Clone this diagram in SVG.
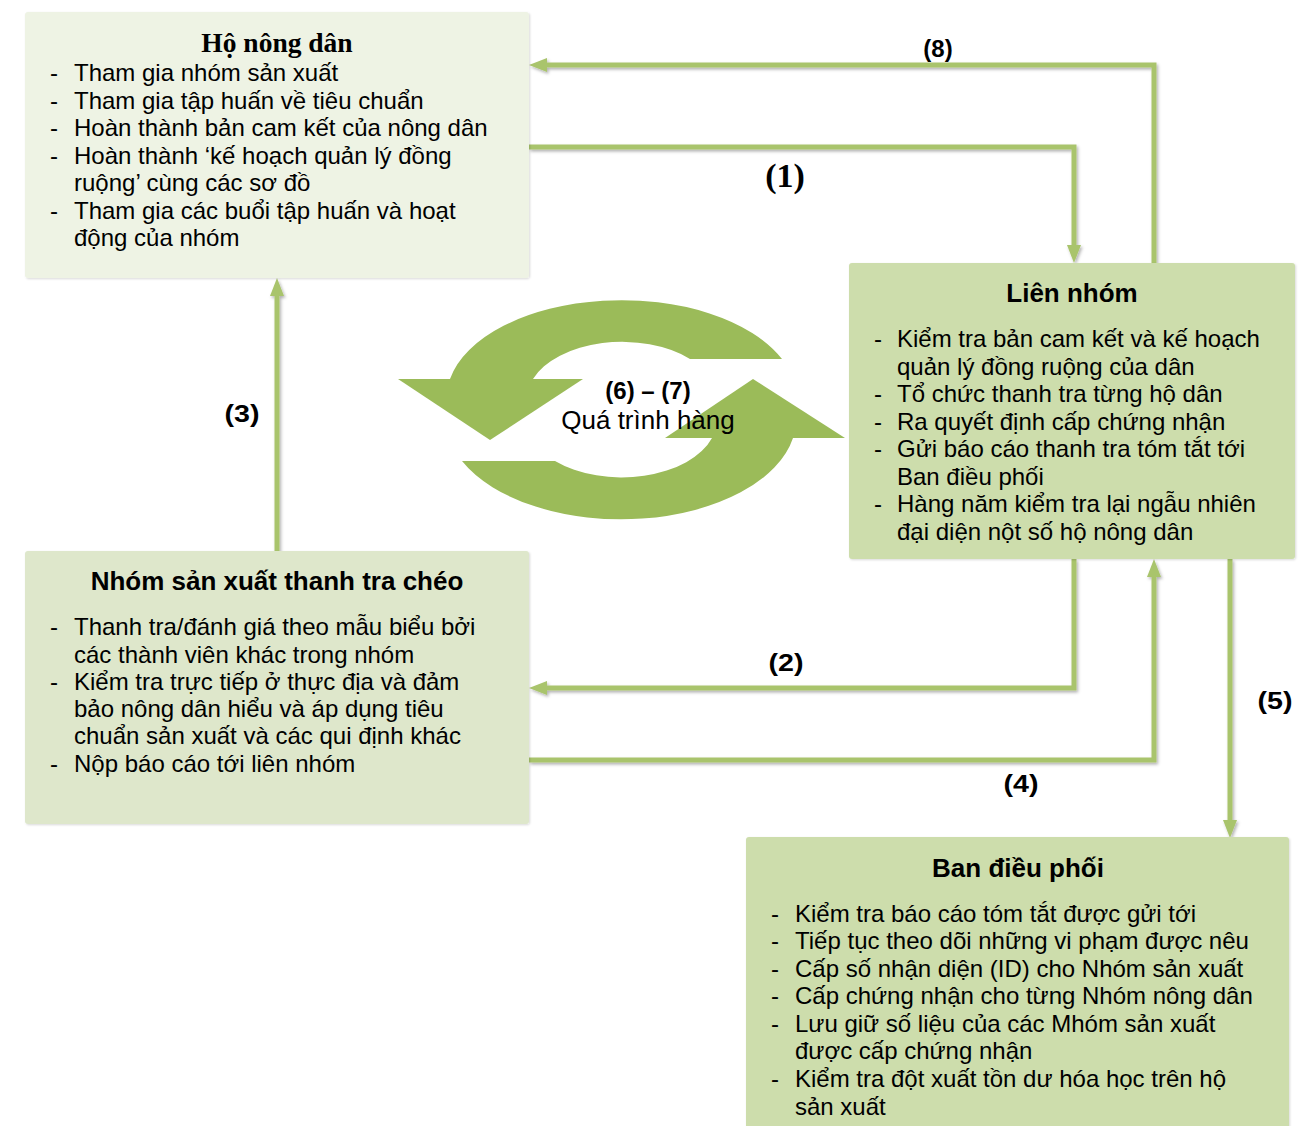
<svg xmlns="http://www.w3.org/2000/svg" width="1298" height="1126" viewBox="0 0 1298 1126">
<style>
.body{font-family:"Liberation Sans",Arial,sans-serif;font-size:24px;fill:#000}
.title{font-family:"Liberation Sans",Arial,sans-serif;font-size:26px;font-weight:bold;fill:#000;text-anchor:middle}
.lbl{font-family:"Liberation Sans",Arial,sans-serif;font-size:24px;font-weight:bold;fill:#000;text-anchor:middle}
.slbl{font-family:"Liberation Serif","Times New Roman",serif;font-weight:bold;fill:#000;text-anchor:middle}
.conn{fill:none;stroke:#A9C46C;stroke-width:5;marker-end:url(#ah)}
</style>
<defs>
<filter id="sh" x="-5%" y="-5%" width="110%" height="110%">
<feDropShadow dx="1.5" dy="2" stdDeviation="1.5" flood-color="#000" flood-opacity="0.3"/>
</filter>
<filter id="bs" x="-2%" y="-2%" width="104%" height="104%">
<feDropShadow dx="1" dy="1" stdDeviation="1" flood-color="#000" flood-opacity="0.15"/>
</filter>
<marker id="ah" markerUnits="userSpaceOnUse" markerWidth="18" markerHeight="14" refX="10" refY="7" orient="auto">
<path d="M0,0 L18,7 L0,14 Z" fill="#A9C46C"/>
</marker>
</defs>
<rect width="1298" height="1126" fill="#fff"/>

<g id="connectors" filter="url(#sh)">
<path class="conn" d="M1154 263 V65 H537"/>
<path class="conn" d="M529 147 H1074 V255"/>
<path class="conn" d="M277 551 V286"/>
<path class="conn" d="M1074 559 V688 H537"/>
<path class="conn" d="M529 760 H1154 V567"/>
<path class="conn" d="M1230 559 V830"/>
</g>

<g id="node-ho-nong-dan">
<rect x="25" y="12" width="504" height="266" rx="3" fill="#EEF3E4" filter="url(#bs)"/>
<text class="slbl" x="277" y="52" font-size="27.5">Hộ nông dân</text>
<g class="body">
<text x="50" y="81">-</text><text x="74" y="81">Tham gia nhóm sản xuất</text>
<text x="50" y="108.5">-</text><text x="74" y="108.5">Tham gia tập huấn về tiêu chuẩn</text>
<text x="50" y="136">-</text><text x="74" y="136">Hoàn thành bản cam kết của nông dân</text>
<text x="50" y="163.5">-</text><text x="74" y="163.5">Hoàn thành ‘kế hoạch quản lý đồng</text>
<text x="74" y="191">ruộng’ cùng các sơ đồ</text>
<text x="50" y="218.5">-</text><text x="74" y="218.5">Tham gia các buổi tập huấn và hoạt</text>
<text x="74" y="246">động của nhóm</text>
</g>
</g>

<g id="node-lien-nhom">
<rect x="849" y="263" width="446" height="296" rx="3" fill="#CDDDAC" filter="url(#bs)"/>
<text class="title" x="1072" y="302">Liên nhóm</text>
<g class="body">
<text x="874" y="347">-</text><text x="897" y="347">Kiểm tra bản cam kết và kế hoạch</text>
<text x="897" y="374.5">quản lý đồng ruộng của dân</text>
<text x="874" y="402">-</text><text x="897" y="402">Tổ chức thanh tra từng hộ dân</text>
<text x="874" y="429.5">-</text><text x="897" y="429.5">Ra quyết định cấp chứng nhận</text>
<text x="874" y="457">-</text><text x="897" y="457">Gửi báo cáo thanh tra tóm tắt tới</text>
<text x="897" y="484.5">Ban điều phối</text>
<text x="874" y="512">-</text><text x="897" y="512">Hàng năm kiểm tra lại ngẫu nhiên</text>
<text x="897" y="539.5">đại diện nột số hộ nông dân</text>
</g>
</g>

<g id="node-nhom-san-xuat">
<rect x="25" y="551" width="504" height="273" rx="3" fill="#DEE7CB" filter="url(#bs)"/>
<text class="title" x="277" y="590">Nhóm sản xuất thanh tra chéo</text>
<g class="body">
<text x="50" y="635">-</text><text x="74" y="635">Thanh tra/đánh giá theo mẫu biểu bởi</text>
<text x="74" y="663">các thành viên khác trong nhóm</text>
<text x="50" y="690">-</text><text x="74" y="690">Kiểm tra trực tiếp ở thực địa và đảm</text>
<text x="74" y="717">bảo nông dân hiểu và áp dụng tiêu</text>
<text x="74" y="744">chuẩn sản xuất và các qui định khác</text>
<text x="50" y="772">-</text><text x="74" y="772">Nộp báo cáo tới liên nhóm</text>
</g>
</g>

<g id="node-ban-dieu-phoi">
<rect x="746" y="837" width="543" height="300" rx="3" fill="#CDDDAC" filter="url(#bs)"/>
<text class="title" x="1018" y="877">Ban điều phối</text>
<g class="body">
<text x="771" y="922">-</text><text x="795" y="922">Kiểm tra báo cáo tóm tắt được gửi tới</text>
<text x="771" y="949">-</text><text x="795" y="949">Tiếp tục theo dõi những vi phạm được nêu</text>
<text x="771" y="976.5">-</text><text x="795" y="976.5">Cấp số nhận diện (ID) cho Nhóm sản xuất</text>
<text x="771" y="1004">-</text><text x="795" y="1004">Cấp chứng nhận cho từng Nhóm nông dân</text>
<text x="771" y="1031.5">-</text><text x="795" y="1031.5">Lưu giữ số liệu của các Mhóm sản xuất</text>
<text x="795" y="1059">được cấp chứng nhận</text>
<text x="771" y="1087">-</text><text x="795" y="1087">Kiểm tra đột xuất tồn dư hóa học trên hộ</text>
<text x="795" y="1115">sản xuất</text>
</g>
</g>

<g id="node-cycle">
<g fill="#9BBB59">
<path d="M450 379 A175 98 0 0 1 782 359 L690 359 A95 57 0 0 0 533 379 Z"/>
<path d="M398 379 L583 379 L490 440 Z"/>
<path d="M462 461 A175 100 0 0 0 793 438 L712 438 A95 57 0 0 1 555 461 Z"/>
<path d="M753 379 L665 438 L845 438 Z"/>
</g>
<text class="lbl" x="648" y="399" font-size="26">(6) – (7)</text>
<text x="648" y="429" text-anchor="middle" font-family="Liberation Sans, Arial, sans-serif" font-size="26">Quá trình hàng</text>
</g>

<g id="labels">
<text class="lbl" x="938" y="57" font-size="26">(8)</text>
<text class="slbl" x="785" y="187" font-size="34">(1)</text>
<text class="lbl" x="242" y="422" textLength="35" lengthAdjust="spacingAndGlyphs">(3)</text>
<text class="lbl" x="786" y="671" textLength="35" lengthAdjust="spacingAndGlyphs">(2)</text>
<text class="lbl" x="1021" y="792" textLength="35" lengthAdjust="spacingAndGlyphs">(4)</text>
<text class="lbl" x="1275" y="709" textLength="35" lengthAdjust="spacingAndGlyphs">(5)</text>
</g>
</svg>
